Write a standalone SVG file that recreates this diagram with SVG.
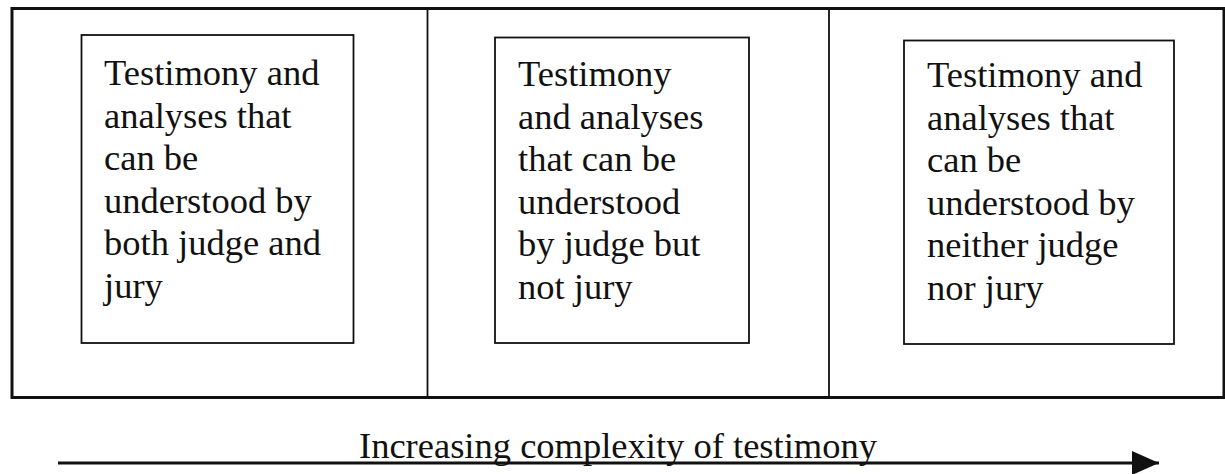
<svg xmlns="http://www.w3.org/2000/svg" width="1225" height="474" viewBox="0 0 1225 474">
<style>
.t{font-family:"Liberation Serif","Times New Roman",serif;font-size:36.5px;fill:#111}
.box{fill:none;stroke:#111;stroke-width:1.8}
.div{stroke:#111;stroke-width:1.8}
</style>
<defs>
<marker id="ah" markerUnits="userSpaceOnUse" markerWidth="28" markerHeight="26" refX="27" refY="12" orient="auto">
<path d="M0,0 L27,12 L0,24 Z" fill="#111"/>
</marker>
</defs>
<rect width="1225" height="474" fill="#fff"/>
<g id="frame">
<rect x="12" y="8.5" width="1212" height="389" fill="none" stroke="#111" stroke-width="3"/>
<line class="div" x1="427.5" y1="8.5" x2="427.5" y2="397"/>
<line class="div" x1="829" y1="8.5" x2="829" y2="397"/>
</g>
<g id="node1">
<rect class="box" x="81.5" y="35" width="272" height="308"/>
<text class="t"><tspan x="104" y="85">Testimony and</tspan><tspan x="104" y="127.5">analyses that</tspan><tspan x="104" y="170">can be</tspan><tspan x="104" y="212.5">understood by</tspan><tspan x="104" y="255">both judge and</tspan><tspan x="104" y="297.5">jury</tspan></text>
</g>
<g id="node2">
<rect class="box" x="495" y="37.5" width="254" height="305.5"/>
<text class="t"><tspan x="518" y="86">Testimony</tspan><tspan x="518" y="128.5">and analyses</tspan><tspan x="518" y="171">that can be</tspan><tspan x="518" y="213.5">understood</tspan><tspan x="518" y="256">by judge but</tspan><tspan x="518" y="298.5">not jury</tspan></text>
</g>
<g id="node3">
<rect class="box" x="904" y="40.5" width="270" height="303.5"/>
<text class="t"><tspan x="927" y="87">Testimony and</tspan><tspan x="927" y="129.5">analyses that</tspan><tspan x="927" y="172">can be</tspan><tspan x="927" y="214.5">understood by</tspan><tspan x="927" y="257">neither judge</tspan><tspan x="927" y="299.5">nor jury</tspan></text>
</g>
<g id="connectors">
<line x1="58" y1="463" x2="1159" y2="463" stroke="#111" stroke-width="3" marker-end="url(#ah)"/>
</g>
<text class="t" x="359" y="458">Increasing complexity of testimony</text>
</svg>
